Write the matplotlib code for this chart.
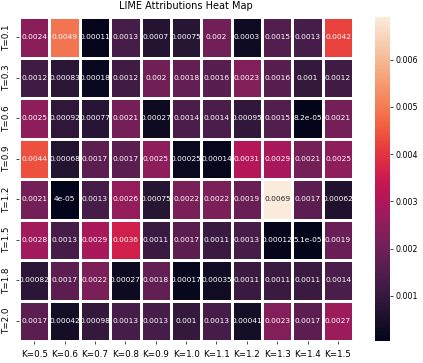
import numpy as np
import matplotlib
matplotlib.use("Agg")
import matplotlib.pyplot as plt
import seaborn as sns

k_labels = ["K=0.5", "K=0.6", "K=0.7", "K=0.8", "K=0.9", "K=1.0", "K=1.1", "K=1.2", "K=1.3", "K=1.4", "K=1.5"]
t_labels = ["T=0.1", "T=0.3", "T=0.6", "T=0.9", "T=1.2", "T=1.5", "T=1.8", "T=2.0"]

t01 = [0.0024, 0.0049, 0.00011, 0.0013, 0.0007, 0.00075, 0.002, 0.0003, 0.0015, 0.0013, 0.0042]
t03 = [0.0012, 0.00083, 0.00018, 0.0012, 0.002, 0.0018, 0.0016, 0.0023, 0.0016, 0.001, 0.0012]
t06 = [0.0025, 0.00092, 0.00077, 0.0021, 0.00027, 0.0014, 0.0014, 0.00095, 0.0015, 8.2e-05, 0.0021]
t09 = [0.0044, 0.00068, 0.0017, 0.0017, 0.0025, 0.00025, 0.00014, 0.0031, 0.0029, 0.0021, 0.0025]
t12 = [0.0021, 4e-05, 0.0013, 0.0026, 0.00075, 0.0022, 0.0022, 0.0019, 0.0069, 0.0017, 0.00062]
t15 = [0.0028, 0.0013, 0.0029, 0.0036, 0.0011, 0.0017, 0.0011, 0.0013, 0.00012, 5.1e-05, 0.0019]
t18 = [0.00082, 0.0017, 0.0022, 0.00027, 0.0018, 0.00017, 0.00035, 0.0011, 0.0011, 0.0011, 0.0014]
t20 = [0.0017, 0.00042, 0.00098, 0.0013, 0.0013, 0.001, 0.0013, 0.00041, 0.0023, 0.0017, 0.0027]

data = np.array([t01, t03, t06, t09, t12, t15, t18, t20])

fig = plt.figure(figsize=(4.23, 3.63), dpi=100)
ax = fig.add_axes([0.045, 0.06, 0.79, 0.893])
cax = fig.add_axes([0.887, 0.06, 0.036, 0.893])

sns.heatmap(data, ax=ax, cbar_ax=cax, annot=True, annot_kws={"size": 5.4},
            linewidths=1, linecolor="white",
            xticklabels=k_labels, yticklabels=t_labels)

ax.set_title("LIME Attributions Heat Map", fontsize=7)
ax.tick_params(labelsize=6.3, length=2.5, width=0.5)
plt.setp(ax.get_xticklabels(), rotation=0)
plt.setp(ax.get_yticklabels(), rotation=90, va="center")
cax.tick_params(labelsize=5.7, length=2, width=0.5, pad=1.5)
cax.set_yticks([0.001, 0.002, 0.003, 0.004, 0.005, 0.006])
cax.set_yticklabels(["0.001", "0.002", "0.003", "0.004", "0.005", "0.006"])

fig.savefig("out.png", dpi=100)
